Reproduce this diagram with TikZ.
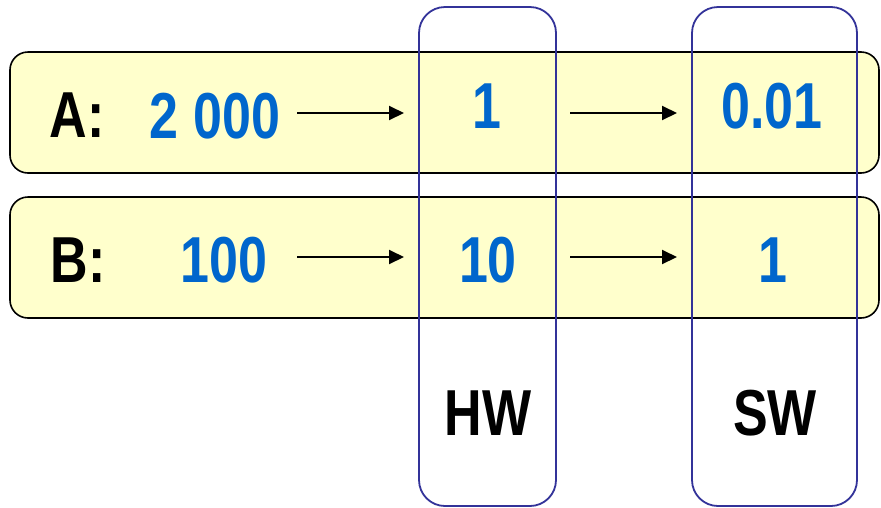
\documentclass[tikz,border=0pt]{standalone}
\usepackage{fontspec}
\setmainfont[FakeStretch=0.8]{Liberation Sans}
\usepackage{tikz}
\usetikzlibrary{arrows.meta}
\definecolor{rowfill}{HTML}{FFFFCC}
\definecolor{numblue}{HTML}{0066CC}
\definecolor{colblue}{HTML}{333399}
\tikzset{rowbox/.style={draw=black, line width=1.6pt, fill=rowfill, rounded corners=18pt},
    colbox/.style={draw=colblue, line width=1.8pt, rounded corners=26pt},
    lbl/.style={font=\fontsize{65}{70}\selectfont\bfseries, inner sep=0pt, anchor=base},
    num/.style={lbl, text=numblue},
    flow/.style={line width=2pt, -{Triangle[length=15pt, width=14pt]}},}

\begin{document}
\begin{tikzpicture}[x=1pt, y=-1pt]
                    \useasboundingbox (0,0) rectangle (881,507);
                    %Rows A and B
                    \draw[rowbox] (10,52) rectangle (879,173);
                    \draw[rowbox] (10,197) rectangle (879,318);
                    %Columns HW and SW
                    \draw[colbox] (419,7) rectangle (556,506);
                    \draw[colbox] (692,7) rectangle (857,506);
                    %Row A
                    \node[lbl] (a) at (77,137) {A:};
                    \node[num] (a0) at (215,138) {2~000};
                    \node[num] (a1) at (487,128) {1};
                    \node[num] (a2) at (772,128) {0.01};
                    \coordinate (a01) at (297,113);
                    \coordinate (a10) at (404,113);
                    \coordinate (a12) at (570,113);
                    \coordinate (a21) at (677,113);
                    \draw[flow] (a01) -- (a10);
                    \draw[flow] (a12) -- (a21);
                    %Row B
                    \node[lbl] (b) at (78,282) {B:};
                    \node[num] (b0) at (224,282) {100};
                    \node[num] (b1) at (488,282) {10};
                    \node[num] (b2) at (773,282) {1};
                    \coordinate (b01) at (297,257);
                    \coordinate (b10) at (404,257);
                    \coordinate (b12) at (570,257);
                    \coordinate (b21) at (677,257);
                    \draw[flow] (b01) -- (b10);
                    \draw[flow] (b12) -- (b21);
                    %Column labels
                    \node[lbl] (hw) at (488,435) {HW};
                    \node[lbl] (sw) at (775,435) {SW};
                \end{tikzpicture}
\end{document}
